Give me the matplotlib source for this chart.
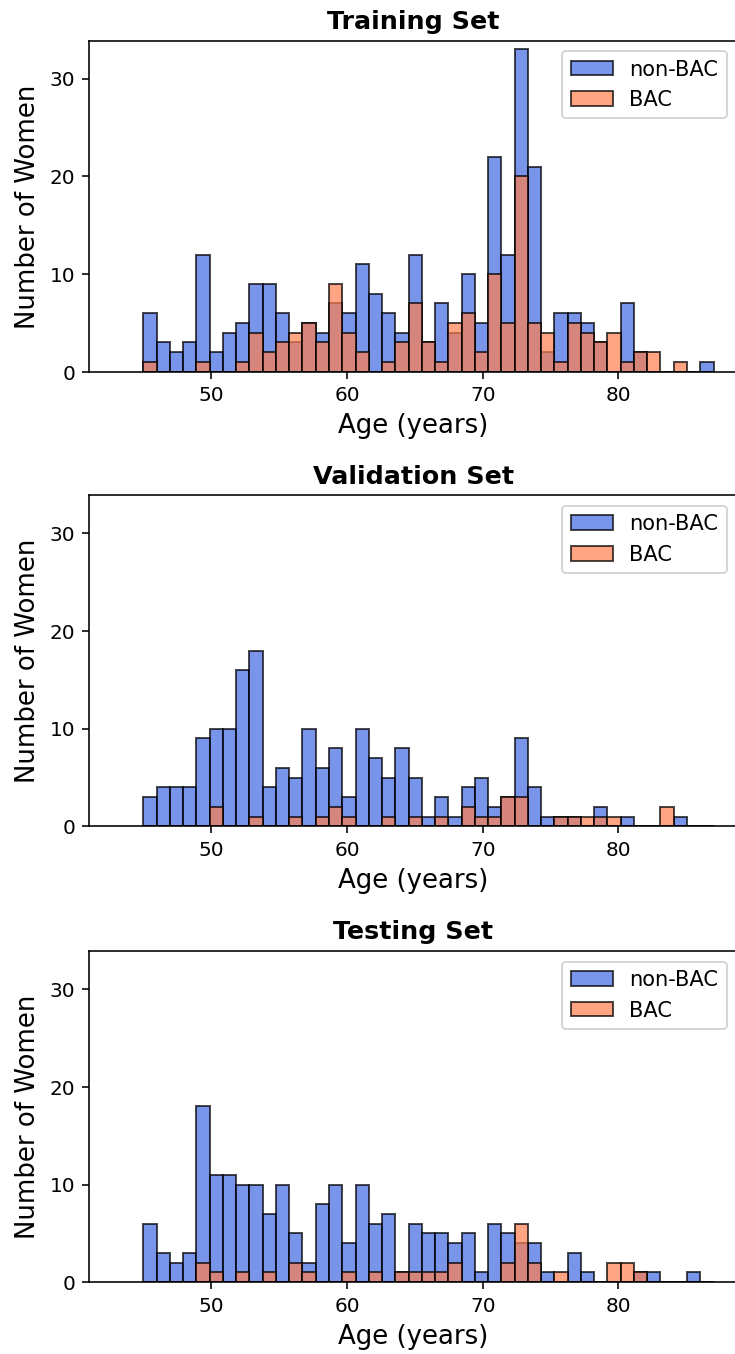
import numpy as np
import matplotlib
matplotlib.use('Agg')
import matplotlib.pyplot as plt

# ages, one bin per year (45..87)
ages = list(range(45, 88))

train_non_bac = [6, 3, 2, 3, 12, 2, 4, 5, 9, 9, 6, 3, 5, 4, 7, 6, 11, 8, 6, 4, 12, 3,
                 7, 4, 10, 5, 22, 12, 33, 21, 2, 6, 6, 5, 3, 0, 7, 2, 0, 0, 0, 0, 1]
train_bac = [1, 0, 0, 0, 1, 0, 0, 1, 4, 2, 3, 4, 5, 3, 9, 4, 2, 0, 1, 3, 7, 3,
             1, 5, 6, 2, 10, 5, 20, 5, 4, 1, 5, 4, 3, 4, 1, 2, 2, 0, 1, 0, 0]

val_non_bac = [3, 4, 4, 4, 9, 10, 10, 16, 18, 4, 6, 5, 10, 6, 8, 3, 10, 7, 5, 8, 5, 1,
               3, 1, 4, 5, 2, 3, 9, 4, 1, 1, 1, 0, 2, 0, 1, 0, 0, 0, 1, 0, 0]
val_bac = [0, 0, 0, 0, 0, 2, 0, 0, 1, 0, 0, 1, 0, 1, 2, 1, 0, 0, 1, 0, 1, 0,
           1, 0, 2, 1, 1, 3, 3, 0, 0, 1, 1, 1, 1, 1, 0, 0, 0, 2, 0, 0, 0]

test_non_bac = [6, 3, 2, 3, 18, 11, 11, 10, 10, 7, 10, 5, 2, 8, 10, 4, 10, 6, 7, 1, 6, 5,
                5, 4, 5, 1, 6, 5, 4, 4, 1, 0, 3, 1, 0, 0, 0, 1, 1, 0, 0, 1, 0]
test_bac = [0, 0, 0, 0, 2, 1, 0, 1, 0, 1, 0, 2, 1, 0, 0, 1, 0, 1, 0, 1, 1, 1,
            1, 2, 0, 0, 0, 2, 6, 2, 0, 1, 0, 0, 0, 2, 2, 1, 0, 0, 0, 0, 0]

titles = ['Training Set', 'Validation Set', 'Testing Set']
sets = [(train_non_bac, train_bac), (val_non_bac, val_bac), (test_non_bac, test_bac)]

bins = np.linspace(45, 87, 44)

dpi = 144
fig = plt.figure(figsize=(735.3 / dpi, 1354.3 / dpi), dpi=dpi)
bottoms = [0.7253, 0.3896, 0.0530]
for title, (non_bac, bac), b in zip(titles, sets, bottoms):
    ax = fig.add_axes([0.1211, b, 0.8816, 0.2445])
    ax.hist(ages, bins=bins, weights=non_bac, color='royalblue', alpha=0.7,
            edgecolor='black', label='non-BAC')
    ax.hist(ages, bins=bins, weights=bac, color='coral', alpha=0.7,
            edgecolor='black', label='BAC')
    ax.set_xlim(41.0, 88.75)
    ax.set_ylim(0, 33.9)
    ax.set_xticks([50, 60, 70, 80])
    ax.set_yticks([0, 10, 20, 30])
    ax.tick_params(labelsize=10)
    ax.set_title(title, fontsize=12.7, fontweight='bold')
    ax.set_xlabel('Age (years)', fontsize=13)
    ax.set_ylabel('Number of Women', fontsize=13)
    ax.legend(loc='upper right', fontsize=10.5)

fig.savefig('out.png', dpi=dpi)
